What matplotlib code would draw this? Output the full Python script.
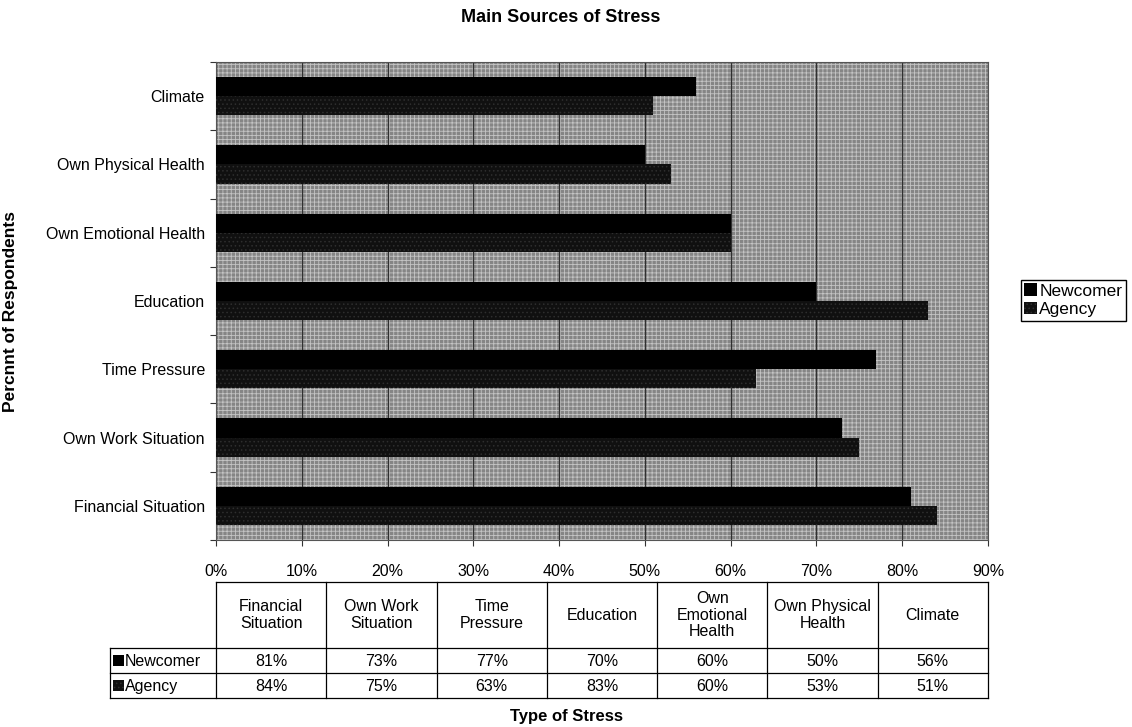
import matplotlib
matplotlib.use("Agg")
import matplotlib.pyplot as plt
from matplotlib.patches import Rectangle, Patch
from matplotlib.ticker import FuncFormatter, FixedLocator
import numpy as np

plt.rcParams['font.family'] = ['Liberation Sans', 'DejaVu Sans']
plt.rcParams['hatch.linewidth'] = 0.6

# Stress categories, listed bottom-to-top on the chart (left-to-right in the table)
categories = ["Financial Situation", "Own Work Situation", "Time Pressure",
              "Education", "Own Emotional Health", "Own Physical Health", "Climate"]
table_headers = ["Financial\nSituation", "Own Work\nSituation", "Time\nPressure",
                 "Education", "Own\nEmotional\nHealth", "Own Physical\nHealth", "Climate"]
newcomer = [81, 73, 77, 70, 60, 50, 56]
agency = [84, 75, 63, 83, 60, 53, 51]
series_names = ["Newcomer", "Agency"]
xticks = [0, 10, 20, 30, 40, 50, 60, 70, 80, 90]

FS = 11.5
W, H = 1132, 727
fig = plt.figure(figsize=(W / 100, H / 100), dpi=100)
fig.patch.set_facecolor("white")

def px(x0, y0, x1, y1):
    return [x0 / W, 1 - y1 / H, (x1 - x0) / W, (y1 - y0) / H]

ax = fig.add_axes(px(216, 62, 988, 540))
ax.set_facecolor("#858585")
ax.add_patch(Rectangle((0, 0), 1, 1, transform=ax.transAxes, facecolor="none",
                       edgecolor="#c4c4c4", hatch="++++", lw=0, zorder=0.5))

y = np.arange(len(categories))
bh = 0.28
newcomer_color = "#000000"
agency_color = "#101010"
ax.barh(y + bh / 2, newcomer, height=bh, color=newcomer_color, zorder=3)
ax.barh(y - bh / 2, agency, height=bh, color=agency_color, zorder=3,
        hatch="....", edgecolor="#2e2e2e", lw=0)

ax.set_xlim(0, 90)
ax.set_ylim(-0.5, len(categories) - 0.5)
ax.xaxis.set_major_locator(FixedLocator(xticks))
ax.xaxis.set_major_formatter(FuncFormatter(lambda v, p: f"{int(v)}%"))
ax.grid(axis="x", color="#303030", lw=0.9, zorder=1)
ax.set_axisbelow(True)
ax.tick_params(axis="x", length=4, width=0.8, pad=13, labelsize=FS, color="#333333")

ax.set_yticks(y)
ax.set_yticklabels(categories)
ax.set_yticks(np.arange(len(categories) + 1) - 0.5, minor=True)
ax.tick_params(axis="y", which="major", length=0, pad=8, labelsize=FS)
ax.tick_params(axis="y", which="minor", length=4, width=0.8, color="#333333")
for s in ax.spines.values():
    s.set_color("#555555")
    s.set_linewidth(0.8)

ax.set_ylabel("Percnnt of Respondents", fontsize=12.5, fontweight="bold")
ax.yaxis.set_label_coords(-(216 - 18) / 772, (540 - 312) / 478)

fig.text(561 / W, 1 - 18 / H, "Main Sources of Stress", ha="center", va="center",
         fontsize=13, fontweight="bold")

# Legend at the right
fig.legend(handles=[Patch(facecolor=newcomer_color, edgecolor="none"),
                    Patch(facecolor=agency_color, edgecolor="#2e2e2e", hatch="....", lw=0)],
           labels=series_names, loc="upper left",
           bbox_to_anchor=(1021 / W, 1 - 280 / H), fontsize=12.5,
           handlelength=0.7, handleheight=0.7, handletextpad=0.15,
           borderpad=0.2, labelspacing=0.2, borderaxespad=0,
           fancybox=False, framealpha=1, edgecolor="black")

# Data table under the chart, drawn in pixel coordinates
tab = fig.add_axes([0, 0, 1, 1], zorder=-1)
tab.set_xlim(0, W)
tab.set_ylim(H, 0)
tab.axis("off")

col_l, col_r = 216, 988
row_lab_l = 110
y_top, y_head, y_r1, y_r2 = 582, 648, 673, 698
ncol = len(categories)
cw = (col_r - col_l) / ncol
lc = "black"
lw = 0.9
tab.plot([col_l, col_r], [y_top, y_top], color=lc, lw=lw)
tab.plot([row_lab_l, col_r], [y_head, y_head], color=lc, lw=lw)
tab.plot([row_lab_l, col_r], [y_r1, y_r1], color=lc, lw=lw)
tab.plot([row_lab_l, col_r], [y_r2, y_r2], color=lc, lw=lw)
tab.plot([row_lab_l, row_lab_l], [y_head, y_r2], color=lc, lw=lw)
for j in range(ncol + 1):
    xx = col_l + j * cw
    tab.plot([xx, xx], [y_top, y_r2], color=lc, lw=lw)

for j in range(ncol):
    cx = col_l + (j + 0.5) * cw
    tab.text(cx, (y_top + y_head) / 2, table_headers[j], ha="center", va="center",
             fontsize=FS, linespacing=1.1)
    tab.text(cx, (y_head + y_r1) / 2 + 1, f"{newcomer[j]}%", ha="center", va="center",
             fontsize=FS)
    tab.text(cx, (y_r1 + y_r2) / 2 + 1, f"{agency[j]}%", ha="center", va="center",
             fontsize=FS)

for (ya, yb), name, col, ht in [((y_head, y_r1), series_names[0], newcomer_color, None),
                                ((y_r1, y_r2), series_names[1], agency_color, "....")]:
    cy = (ya + yb) / 2
    tab.add_patch(Rectangle((row_lab_l + 3, cy - 5.5), 11, 11, facecolor=col,
                            edgecolor="#2e2e2e" if ht else col, hatch=ht, lw=0))
    tab.text(row_lab_l + 15, cy + 1, name, ha="left", va="center", fontsize=FS)

fig.text(566 / W, 1 - 716 / H, "Type of Stress", ha="center", va="center",
         fontsize=12, fontweight="bold")

fig.savefig("out.png", dpi=100, facecolor="white")
